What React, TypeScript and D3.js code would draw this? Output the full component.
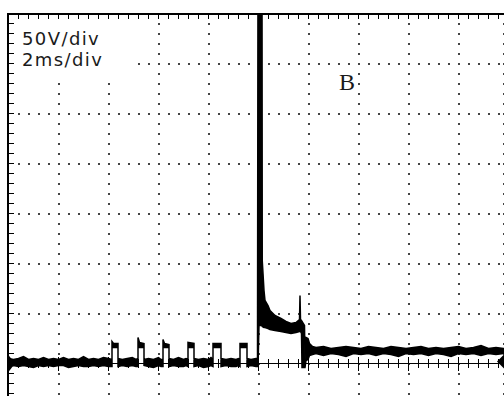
import * as d3 from "d3";

type Pt = [number, number, number]; // time (ms), low (V), high (V)

const scaleLabels = ["50V/div", "2ms/div"];
const channelLabel = "B";

// baseline and the six small pulses before the surge
const preTrigger: Pt[] = [
  [0, -3, 5], [0.2, -2, 4], [0.4, -3, 5], [0.6, -2, 7], [0.8, -3, 4], [1.0, -4, 5],
  [1.2, -2, 4], [1.4, -3, 6], [1.6, -2, 4], [1.8, -3, 5], [2.0, -2, 4], [2.2, -2, 6],
  [2.4, -4, 4], [2.6, -3, 5], [2.8, -2, 4], [3.0, -3, 7], [3.2, -3, 4], [3.4, -2, 5],
  [3.6, -3, 4], [3.8, -2, 6], [4.0, -3, 5],
  [4.14, -3, 4], [4.14, 16, 22], [4.2, 16, 20], [4.38, 16, 20], [4.38, -3, 5],
  [4.55, -2, 4], [4.75, -3, 5], [4.95, -2, 6], [5.1, -3, 4],
  [5.18, -3, 5], [5.18, 16, 26], [5.24, 16, 21], [5.42, 16, 20], [5.42, -2, 4],
  [5.6, -3, 5], [5.8, -4, 4], [6.0, -2, 6], [6.1, -3, 4],
  [6.18, -3, 4], [6.18, 16, 24], [6.24, 16, 20], [6.42, 16, 19], [6.42, -3, 5],
  [6.6, -2, 4], [6.8, -3, 6], [7.0, -3, 4], [7.1, -2, 5],
  [7.18, -3, 4], [7.18, 16, 21], [7.42, 16, 20], [7.42, -3, 5],
  [7.6, -2, 4], [7.8, -4, 5], [8.0, -3, 4], [8.1, -2, 6],
  [8.18, -3, 4], [8.18, 16, 20], [8.5, 16, 20], [8.5, -3, 5],
  [8.7, -2, 4], [8.9, -3, 5], [9.1, -3, 4], [9.2, -2, 5],
  [9.26, -3, 4], [9.26, 16, 20], [9.54, 16, 20], [9.54, -3, 5],
  [9.7, -2, 4], [9.9, -3, 5],
];

// surge, ring-down plateau and the drop back
const surge: Pt[] = [
  [9.96, -3, 5], [9.98, -3, 400], [10.02, 38, 400], [10.14, 38, 400],
  [10.15, 37, 103], [10.22, 36, 73], [10.26, 36, 63], [10.38, 35, 58],
  [10.46, 34, 53], [10.66, 33, 48], [10.9, 32, 45], [11.1, 31, 42],
  [11.3, 30, 40], [11.5, 31, 41], [11.64, 32, 44], [11.66, 32, 68],
  [11.68, 32, 44], [11.72, 30, 43], [11.74, -4, 42], [11.84, -4, 38],
  [11.86, -4, 4], [11.9, 3, 26], [11.98, 4, 25], [12.04, 8, 20], [12.16, 9, 17],
];

// settled level after the surge
const settled: Pt[] = [
  [12.3, 10, 16], [12.6, 8, 17], [12.9, 10, 15], [13.2, 9, 16], [13.5, 7, 17],
  [13.8, 10, 16], [14.1, 9, 15], [14.4, 10, 17], [14.7, 8, 16], [15.0, 10, 15],
  [15.3, 9, 17], [15.6, 7, 16], [15.9, 10, 15], [16.2, 9, 16], [16.5, 10, 17],
  [16.8, 8, 15], [17.1, 10, 16], [17.4, 9, 15], [17.7, 7, 16], [18.0, 10, 17],
  [18.3, 9, 15], [18.6, 10, 16], [18.9, 8, 18], [19.2, 10, 15], [19.5, 9, 16],
  [19.8, 10, 15], [20, 9, 16],
];

export default function App() {
  const width = 504;
  const height = 396;

  const x = d3.scaleLinear().domain([0, 20]).range([8.5, 508.5]);
  const y = d3.scaleLinear().domain([-50, 350]).range([413.5, 13.5]);

  const trace = [...preTrigger, ...surge, ...settled];
  const area = d3.area<Pt>()
    .x(d => x(d[0]))
    .y0(d => y(d[1]))
    .y1(d => y(d[2]));

  const majorT = d3.range(2, 20, 2);
  const minorT = d3.range(0.4, 20, 0.4);
  const gridV = [50, 100, 150, 200, 250, 300];
  const minorV = d3.range(-40, 350, 10);

  const dotsX = minorT.map(t => x(t)).concat([503.5]);
  const y0 = y(0);

  return (
    <div style={{ position: "absolute", left: 0, top: 0 }}>
      <svg width={width} height={height} style={{ display: "block", background: "#fff" }}>
        <defs>
          <clipPath id="screen">
            <rect x={8} y={14} width={width - 8} height={height - 14} />
          </clipPath>
        </defs>

        {/* dotted graticule */}
        <g fill="#444" shapeRendering="crispEdges">
          {gridV.map(v =>
            dotsX.map(px => (
              <rect key={`h${v}-${px}`} x={px - 1} y={y(v) - 1} width={2} height={2} />
            ))
          )}
          {majorT.map(t => x(t)).concat([503.5]).map(px =>
            minorV.map(v => (
              <rect key={`v${px}-${v}`} x={px - 1} y={y(v) - 1} width={2} height={2} />
            ))
          )}
        </g>

        {/* label background */}
        <rect x={14} y={19} width={122} height={56} fill="#fff" />
        {scaleLabels.map((s, i) => (
          <text key={s} x={22} y={45 + i * 21} fontFamily="DejaVu Sans" fontSize={18}
            letterSpacing={1.4} fill="#1a1a1a">
            {s}
          </text>
        ))}
        <text x={339} y={90} fontFamily="Liberation Serif" fontSize={24} fill="#1a1a1a">
          {channelLabel}
        </text>

        {/* center axis with ticks */}
        <g stroke="#000" shapeRendering="crispEdges">
          <line x1={8} x2={width} y1={y0} y2={y0} strokeWidth={1} />
          {minorT.map(t => (
            <line key={`ct${t}`} x1={x(t)} x2={x(t)} y1={y0 - 4.5} y2={y0 + 4.5} strokeWidth={1.5} />
          ))}
          {majorT.map(t => (
            <line key={`cm${t}`} x1={x(t)} x2={x(t)} y1={y0 - 7} y2={y0 + 7} strokeWidth={1.5} />
          ))}
        </g>

        {/* trace */}
        <g clipPath="url(#screen)">
          <path d={area(trace) ?? ""} fill="#000" stroke="#000" strokeWidth={1.5} strokeLinejoin="miter" />
        </g>

        {/* level markers */}
        <path d={`M8,${y0 - 9} L15,${y0} L8,${y0 + 9} Z`} fill="#000" />
        <path d={`M${width},${y0 - 9} L${width - 7},${y0 - 2} L${width},${y0 + 5} Z`} fill="#000" />

        {/* frame with ticks */}
        <g stroke="#000" shapeRendering="crispEdges">
          <line x1={7} x2={width} y1={14} y2={14} strokeWidth={2} />
          <line x1={8} x2={8} y1={13} y2={height} strokeWidth={2} />
          {minorT.concat(majorT).map((t, i) => (
            <line key={`tt${i}`} x1={x(t)} x2={x(t)} y1={15} y2={18.5} strokeWidth={1.5} />
          ))}
          {minorV.map(v => (
            <line key={`lt${v}`} x1={9} x2={14} y1={y(v)} y2={y(v)} strokeWidth={1.5} />
          ))}
        </g>
      </svg>
    </div>
  );
}
